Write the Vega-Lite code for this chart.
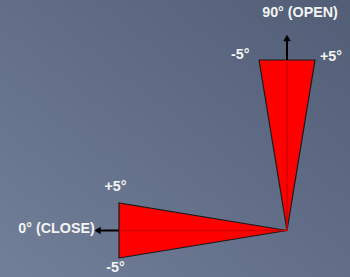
{
  "$schema": "https://vega.github.io/schema/vega-lite/v6.json",
  "width": 350,
  "height": 277,
  "autosize": {"type": "fit", "contains": "padding"},
  "padding": 0,
  "background": "#636e87",
  "config": {"view": {"stroke": null}},
  "datasets": {
    "bg": [{"x0": -287, "x1": 63, "y0": -46.5, "y1": 230.5}],
    "closeWedge": [{"x": -168, "lo": -27.5, "hi": 27.5}, {"x": 0, "lo": 0, "hi": 0}],
    "openWedge": [{"y": 170.5, "lo": -28, "hi": 28}, {"y": 0, "lo": 0, "hi": 0}],
    "centre": [{"x": 0, "y": 0, "x2": -168, "y2": 0}, {"x": 0, "y": 0, "x2": 0, "y2": 170.5}],
    "shafts": [{"x": -168, "y": 0, "x2": -188, "y2": 0}, {"x": 0, "y": 170.5, "x2": 0, "y2": 191}],
    "headsUp": [{"x": 0, "y": 192.5}],
    "headsLeft": [{"x": -189.5, "y": 0}],
    "labels": [
      {"x": 13, "y": 217.5, "text": "90° (OPEN)"},
      {"x": -46.7, "y": 175.5, "text": "-5°"},
      {"x": 44, "y": 173.5, "text": "+5°"},
      {"x": -171.5, "y": 43.8, "text": "+5°"},
      {"x": -171.5, "y": -37.5, "text": "-5°"},
      {"x": -230.5, "y": 1.5, "text": "0° (CLOSE)"}
    ]
  },
  "layer": [
    {
      "data": {"name": "bg"},
      "mark": {"type": "rect", "fill": {"gradient": "linear", "x1": 0, "y1": 1, "x2": 1, "y2": 0, "stops": [{"offset": 0, "color": "#727f99"}, {"offset": 1, "color": "#525d76"}]}},
      "encoding": {
        "x": {"field": "x0", "type": "quantitative", "scale": {"domain": [-287, 63], "nice": false, "zero": false}, "axis": null},
        "x2": {"field": "x1"},
        "y": {"field": "y0", "type": "quantitative", "scale": {"domain": [-46.5, 230.5], "nice": false, "zero": false}, "axis": null},
        "y2": {"field": "y1"}
      }
    },
    {
      "data": {"name": "closeWedge"},
      "mark": {"type": "area", "orient": "vertical", "fill": "#ff0000", "fillOpacity": 1, "stroke": "#1a1a1a", "strokeWidth": 1.2, "strokeJoin": "miter"},
      "encoding": {
        "x": {"field": "x", "type": "quantitative"},
        "y": {"field": "lo", "type": "quantitative"},
        "y2": {"field": "hi"}
      }
    },
    {
      "data": {"name": "openWedge"},
      "mark": {"type": "area", "orient": "horizontal", "fill": "#ff0000", "fillOpacity": 1, "stroke": "#1a1a1a", "strokeWidth": 1.2, "strokeJoin": "miter"},
      "encoding": {
        "y": {"field": "y", "type": "quantitative"},
        "x": {"field": "lo", "type": "quantitative"},
        "x2": {"field": "hi"}
      }
    },
    {
      "data": {"name": "centre"},
      "mark": {"type": "rule", "color": "#d40000", "strokeWidth": 1.5, "opacity": 1},
      "encoding": {
        "x": {"field": "x", "type": "quantitative"},
        "y": {"field": "y", "type": "quantitative"},
        "x2": {"field": "x2"},
        "y2": {"field": "y2"}
      }
    },
    {
      "data": {"name": "shafts"},
      "mark": {"type": "rule", "color": "#000000", "strokeWidth": 2},
      "encoding": {
        "x": {"field": "x", "type": "quantitative"},
        "y": {"field": "y", "type": "quantitative"},
        "x2": {"field": "x2"},
        "y2": {"field": "y2"}
      }
    },
    {
      "data": {"name": "headsUp"},
      "mark": {"type": "point", "shape": "triangle-up", "filled": true, "color": "#000000", "opacity": 1, "size": 55},
      "encoding": {
        "x": {"field": "x", "type": "quantitative"},
        "y": {"field": "y", "type": "quantitative"}
      }
    },
    {
      "data": {"name": "headsLeft"},
      "mark": {"type": "point", "shape": "triangle-left", "filled": true, "color": "#000000", "opacity": 1, "size": 55},
      "encoding": {
        "x": {"field": "x", "type": "quantitative"},
        "y": {"field": "y", "type": "quantitative"}
      }
    },
    {
      "data": {"name": "labels"},
      "mark": {"type": "text", "color": "#f4f4f4", "font": "Liberation Sans", "fontSize": 14.3, "fontWeight": "bold", "align": "center", "baseline": "middle"},
      "encoding": {
        "x": {"field": "x", "type": "quantitative"},
        "y": {"field": "y", "type": "quantitative"},
        "text": {"field": "text"}
      }
    }
  ]
}
